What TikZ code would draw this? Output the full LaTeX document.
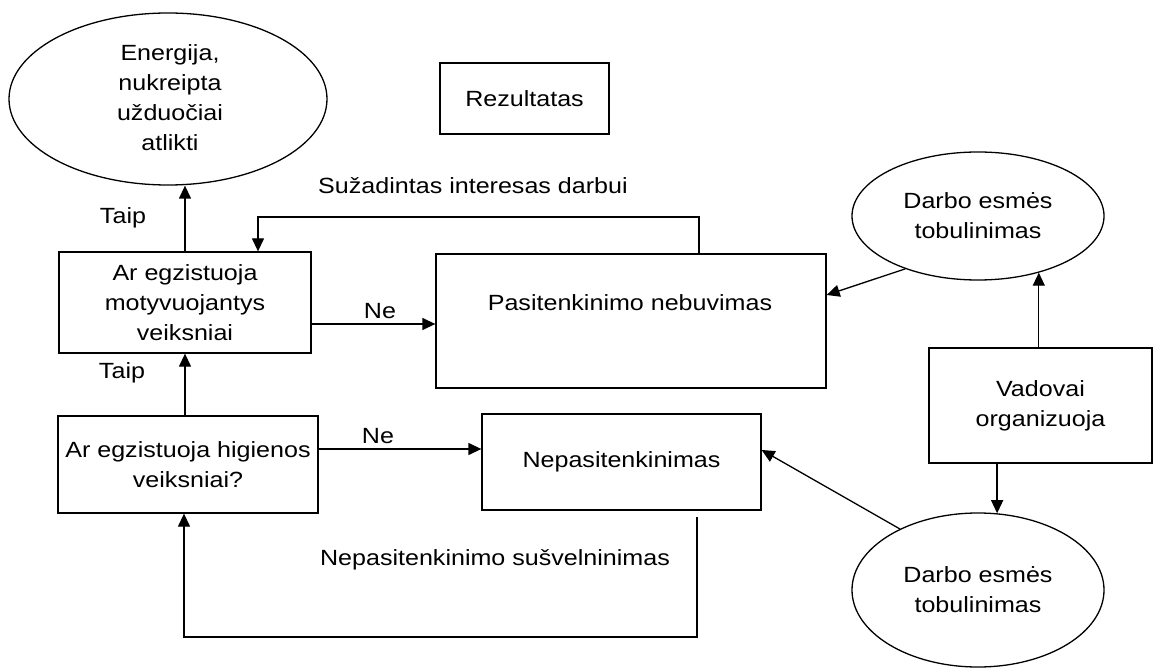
\documentclass[tikz,border=0pt]{standalone}
\usepackage{fontspec}
\setmainfont{Liberation Sans}[FakeStretch=1.14]
\usetikzlibrary{arrows.meta,shapes.geometric}
\begin{document}
\begin{tikzpicture}[x=1pt,y=-1pt,
  every node/.style={font=\fontsize{22}{30}\selectfont, align=center, inner sep=0pt},
  boxnode/.style={draw, line width=1.3pt, rectangle},
  ellnode/.style={draw, line width=1.3pt, ellipse},
  lbl/.style={},
  arr/.style={line width=1.3pt, -{Triangle[length=13pt,width=12pt]}},
  plain/.style={line width=1.3pt}]
\useasboundingbox (0,0) rectangle (1154,668);
\fill[white] (0,0) rectangle (1154,668);

% nodes
\node[ellnode, minimum width=318pt, minimum height=172pt] (E) at (168,99) {};
\node[lbl] (Et) at (170,98) {Energija,\\nukreipta\\užduočiai\\atlikti};
\node[boxnode, minimum width=169pt, minimum height=71pt] (rez) at (524.5,98.5) {Rezultatas};
\node[boxnode, minimum width=252pt, minimum height=101pt] (box1) at (185,302.5) {Ar egzistuoja\\motyvuojantys\\veiksniai};
\node[boxnode, minimum width=390pt, minimum height=134pt] (pas) at (631,321) {};
\node[lbl] (past) at (630,303) {Pasitenkinimo nebuvimas};
\node[ellnode, minimum width=252pt, minimum height=128pt] (tr) at (978,216) {Darbo esmės\\tobulinimas};
\node[boxnode, minimum width=223pt, minimum height=115pt] (vad) at (1040.5,405.5) {Vadovai\\organizuoja};
\node[boxnode, minimum width=260pt, minimum height=97pt] (box2) at (188,464.5) {Ar egzistuoja higienos\\veiksniai?};
\node[boxnode, minimum width=279pt, minimum height=96pt] (nep) at (621.5,462) {Nepasitenkinimas};
\node[ellnode, minimum width=252pt, minimum height=154pt] (br) at (978,590) {Darbo esmės\\tobulinimas};

% labels
\node[lbl] (taip1) at (123,218) {Taip};
\node[lbl] (taip2) at (122,373) {Taip};
\node[lbl] (ne1) at (380,311) {Ne};
\node[lbl] (ne2) at (378,436) {Ne};
\node[lbl] (suz) at (473,186) {Sužadintas interesas darbui};
\node[lbl] (nsus) at (495,560) {Nepasitenkinimo sušvelninimas};

% connectors
\draw[arr] (box1.north) -- (box1.north |- E.south);
\coordinate (n1) at (310,324);
\draw[arr] (n1) -- (n1 -| pas.west);
\coordinate (fbA) at (699,217);
\coordinate (fbB) at (258,217);
\draw[arr] (fbA |- pas.north) -- (fbA) -- (fbB) -- (fbB |- box1.north);
\draw[arr] (tr.216) -- ([yshift=26pt]pas.east);
\draw[arr] (tr.-43 |- vad.north) -- (tr.-43);
\draw[arr] (br.76 |- vad.south) -- (br.76);
\draw[arr] (br.142) -- ([yshift=12pt]nep.east);
\draw[arr] (box1.south |- box2.north) -- (box1.south);
\coordinate (n2) at (318,449);
\draw[arr] (n2) -- (n2 -| nep.west);
\coordinate (fbC) at (697,517);
\coordinate (fbD) at (697,637);
\coordinate (fbE) at (184,637);
\draw[arr] (fbC) -- (fbD) -- (fbE) -- (fbE |- box2.south);
\end{tikzpicture}
\end{document}
